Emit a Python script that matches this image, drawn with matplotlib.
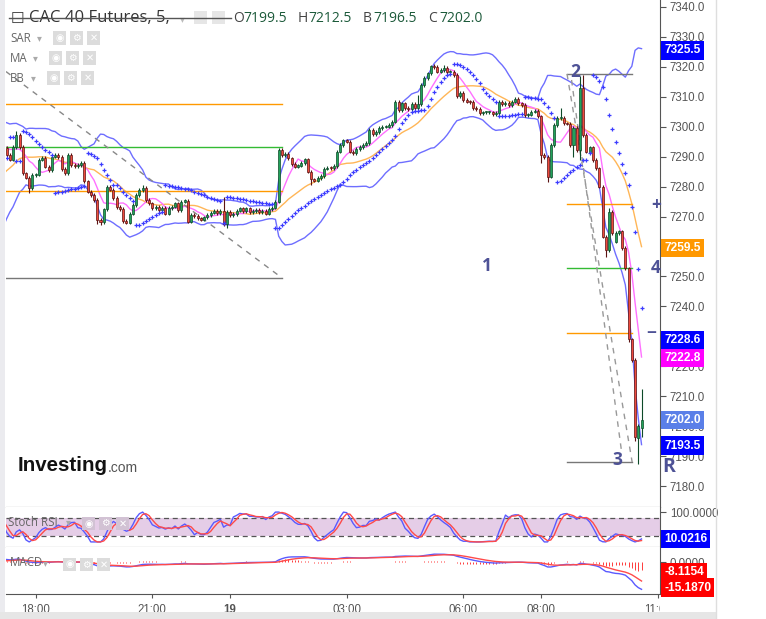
import numpy as np
import pandas as pd
import matplotlib
matplotlib.use("Agg")
import matplotlib.pyplot as plt
from matplotlib.patches import Rectangle
from matplotlib.lines import Line2D
from matplotlib.transforms import blended_transform_factory, Bbox, TransformedBbox

plt.rcParams["font.family"] = ["Open Sans", "DejaVu Sans"]

# CAC 40 futures, 5 min bars, visible window 17:15 -> 10:40
closes = [
    7290.6, 7289.0, 7293.3, 7297.2, 7293.3, 7284.4, 7283.0, 7279.4, 7283.9, 7284.0,
    7289.0, 7289.5, 7286.7, 7285.6, 7290.0, 7290.6, 7289.8, 7285.8, 7284.4, 7290.6,
    7287.2, 7286.9, 7287.2, 7288.0, 7281.7, 7278.3, 7277.2, 7275.5, 7268.8, 7268.2,
    7272.4, 7280.0, 7279.0, 7276.1, 7273.1, 7272.5, 7268.5, 7268.0, 7271.0, 7273.9,
    7277.2, 7278.9, 7279.5, 7275.5, 7274.4, 7272.7, 7273.2, 7272.2, 7273.0, 7271.0,
    7272.8, 7273.3, 7274.4, 7272.2, 7275.0, 7275.3, 7268.3, 7270.5, 7270.2, 7269.4,
    7269.0, 7269.7, 7270.5, 7271.3, 7272.0, 7271.1, 7272.0, 7267.5, 7271.5, 7270.5,
    7270.8, 7272.0, 7272.7, 7271.7, 7272.7, 7271.5, 7271.8, 7272.3, 7271.5, 7272.0,
    7271.0, 7272.5, 7273.0, 7275.0, 7292.2, 7290.6, 7291.0, 7289.4, 7287.5, 7286.7,
    7287.0, 7287.8, 7289.1, 7285.0, 7282.4, 7282.0, 7282.9, 7283.5, 7286.0, 7286.3,
    7286.1, 7286.9, 7291.7, 7293.9, 7295.4, 7295.0, 7291.7, 7291.2, 7292.5, 7293.2,
    7294.0, 7294.5, 7298.9, 7297.5, 7298.2, 7299.5, 7300.0, 7300.0, 7300.6, 7301.7,
    7308.4, 7305.6, 7307.8, 7306.2, 7306.0, 7307.5, 7306.2, 7307.5, 7314.0, 7316.2,
    7317.8, 7320.1, 7320.0, 7318.4, 7319.0, 7319.5, 7318.2, 7318.3, 7317.3, 7310.1,
    7311.2, 7309.0, 7308.4, 7308.2, 7306.2, 7305.9, 7304.5, 7304.8, 7304.8, 7304.8,
    7304.1, 7304.5, 7308.4, 7307.5, 7308.0, 7307.1, 7308.4, 7309.3, 7307.8, 7307.3,
    7303.9, 7304.0, 7305.0, 7305.3, 7303.4, 7290.6, 7289.8, 7283.1, 7293.9, 7300.6,
    7302.8, 7303.0, 7301.1, 7301.0, 7293.9, 7299.5, 7292.2, 7312.8, 7297.2, 7291.7,
    7293.1, 7288.9, 7286.1, 7280.0, 7263.3, 7258.8, 7271.6, 7264.4, 7264.4, 7265.0,
    7259.4, 7252.7, 7229.0, 7222.0, 7196.5, 7200.0, 7202.0,
]
first_open = 7292.8
open_fix = {188: 7261.6, 195: 7196.0, 196: 7199.5}
high_fix = {3: 7298.5, 42: 7280.5, 67: 7276.5, 84: 7293.0, 127: 7310.5, 132: 7321.0,
            135: 7320.6, 171: 7306.3, 177: 7317.0, 178: 7317.2, 186: 7273.0, 196: 7212.5}
low_fix = {7: 7277.8, 28: 7267.5, 29: 7267.0, 68: 7266.0, 84: 7274.5, 94: 7280.5,
           165: 7287.8, 167: 7281.5, 168: 7283.0, 175: 7290.0, 177: 7289.0, 185: 7256.5,
           192: 7228.0, 194: 7195.0, 195: 7187.5, 196: 7196.5}
wick_pad = 0.6

# bars left of the visible window, only there so the indicators are warmed up
warmup_closes = [
    7296, 7298, 7295, 7291, 7287, 7283, 7279, 7275, 7272, 7270,
    7268, 7271, 7274, 7272, 7275, 7279, 7277, 7281, 7284, 7283,
    7287, 7290, 7288, 7292, 7295, 7293, 7296, 7294, 7291, 7293,
]

time_ticks = [9, 45, 69, 105, 141, 165, 201]
time_labels = ["18:00", "21:00", "19", "03:00", "06:00", "08:00", "11:00"]

fib_left = [7307.5, 7293.2, 7278.4, 7249.5]
fib_left_colors = ["#ff9900", "#33bb33", "#ff9900", "#777777"]
fib_right = [7317.6, 7274.1, 7252.7, 7231.0, 7188.0]
fib_right_colors = ["#777777", "#ff9900", "#33bb33", "#ff9900", "#777777"]

price_flags = [7325.5, 7259.5, 7228.6, 7222.8, 7202.0, 7193.5]
price_flag_colors = ["#0000ff", "#ff9800", "#0000ff", "#ff00ff", "#5a7fe8", "#0000ff"]
hidden_ticks = [7260, 7230]
stoch_flag = 10.0216
macd_flags = ["-8.1154", "-15.1870"]
header_keys = ["O", "H", "B", "C"]
header_vals = ["7199.5", "7212.5", "7196.5", "7202.0"]

# wave labels (bar index, price)
wave_labels = [("1", 148.3, 7253.5), ("2", 175.5, 7318.3), ("3", 188.6, 7188.7),
               ("4", 200.5, 7252.7), ("+", 200.6, 7273.9), ("\u2212", 199.0, 7231.2),
               ("R", 204.3, 7186.5)]

# ---------------- build series ----------------
n = len(closes)
nw = len(warmup_closes)
c = np.array(closes, float)
o = np.r_[first_open, c[:-1]]
for i, v in open_fix.items():
    o[i] = v
h = np.maximum(o, c) + wick_pad
l = np.minimum(o, c) - wick_pad
for i, v in high_fix.items():
    h[i] = v
for i, v in low_fix.items():
    l[i] = v
x = np.arange(n)

wc = np.array(warmup_closes, float)
allc = pd.Series(np.r_[wc, c])
allh = np.r_[wc + wick_pad, h]
alll = np.r_[wc - wick_pad, l]
xa = np.arange(-nw, n)

sma20 = allc.rolling(20).mean()
sd20 = allc.rolling(20).std(ddof=0)
bb_up = sma20 + 2 * sd20
bb_lo = sma20 - 2 * sd20
sma7 = allc.rolling(7).mean()


def psar(hi, lo, af0=0.02, step=0.02, amax=0.2):
    out = np.zeros(len(hi))
    up = False
    af = af0
    ep = lo[0]
    out[0] = hi[0]
    for i in range(1, len(hi)):
        s = out[i - 1] + af * (ep - out[i - 1])
        if up:
            s = min(s, lo[i - 1], lo[max(i - 2, 0)])
            if lo[i] < s:
                up, s, ep, af = False, ep, lo[i], af0
            elif hi[i] > ep:
                ep, af = hi[i], min(af + step, amax)
        else:
            s = max(s, hi[i - 1], hi[max(i - 2, 0)])
            if hi[i] > s:
                up, s, ep, af = True, ep, hi[i], af0
            elif lo[i] < ep:
                ep, af = lo[i], min(af + step, amax)
        out[i] = s
    return out


sar = psar(allh, alll)

d = allc.diff()
g = d.clip(lower=0).ewm(alpha=1 / 14, adjust=False).mean()
ls = (-d.clip(upper=0)).ewm(alpha=1 / 14, adjust=False).mean()
rsi = 100 - 100 / (1 + g / ls)
rlo = rsi.rolling(14, min_periods=1).min()
rhi = rsi.rolling(14, min_periods=1).max()
st = (rsi - rlo) / (rhi - rlo).replace(0, np.nan) * 100
k = st.rolling(3, min_periods=1).mean()
dk = k.rolling(3, min_periods=1).mean()

macd = allc.ewm(span=12, adjust=False).mean() - allc.ewm(span=26, adjust=False).mean()
sig = macd.ewm(span=9, adjust=False).mean()
hist = macd - sig

# ---------------- figure ----------------
W, H = 766, 619
fig = plt.figure(figsize=(W / 100, H / 100), dpi=100)
fig.patch.set_facecolor("white")


def fx(px):
    return px / W


def fy(py):
    return 1 - py / H


ax = fig.add_axes([fx(6), fy(507), fx(654), 507 / H])
ax2 = fig.add_axes([fx(6), fy(547.3), fx(654), 40.3 / H], sharex=ax)
ax3 = fig.add_axes([fx(6), fy(594.3), fx(654), 47 / H], sharex=ax)

axis_font = ["Liberation Sans", "DejaVu Sans"]
for a in (ax, ax2, ax3):
    a.set_facecolor("white")
    for s in ("left", "top"):
        a.spines[s].set_visible(False)
    a.spines["right"].set_color("#555555")
    a.spines["bottom"].set_color("#555555")
    a.yaxis.tick_right()
    a.tick_params(axis="y", direction="out", length=4, width=0.8, color="#555555",
                  labelsize=8.3, labelcolor="#555555", pad=3)
ax.set_xlim(-0.17, 201.7)
ax.tick_params(axis="x", bottom=False, labelbottom=False)
ax2.tick_params(axis="x", bottom=False, labelbottom=False)

# ---- main price panel ----
ax.set_ylim(7173.0, 7342.3)
yt = np.arange(7180, 7341, 10)
ax.set_yticks(yt)
ax.set_yticklabels(["" if v in hidden_ticks else f"{v:.1f}" for v in yt], family=axis_font)

ax.plot(xa, bb_up, color="#6e6eff", lw=1, zorder=2)
ax.plot(xa, bb_lo, color="#6e6eff", lw=1, zorder=2)
ax.plot(xa, sma20, color="#ffb657", lw=1, zorder=2)
ax.plot(xa, sma7, color="#ff70ff", lw=1, zorder=2)

rising = c >= o
ax.vlines(x, l, h, colors=np.where(rising, "#0d4a28", "#5a1212"), lw=0.8, zorder=3)
ax.bar(x, np.maximum(np.abs(c - o), 0.35), 0.62, bottom=np.minimum(o, c),
       color=np.where(rising, "#21a25a", "#ee4a3d"),
       edgecolor=np.where(rising, "#0d4a28", "#5a1212"), lw=0.5, zorder=4)
ax.plot(xa, sar, "+", ms=3.3, mew=0.9, color="#3c3cff", zorder=5)

# fibonacci / wave drawings
for lev, col in zip(fib_left, fib_left_colors):
    ax.plot([-0.17, 85.0], [lev, lev], color=col, lw=1, zorder=2)
for lev, col in zip(fib_right, fib_right_colors):
    ax.plot([173.0, 193.1], [lev, lev], color=col, lw=1, zorder=2)
ax.plot([-0.17, 85.0], [7318.4, fib_left[-1]], color="#888888", lw=1, ls=(0, (4, 4)), zorder=2)
ax.plot([173.0, 193.1], [fib_right[0], fib_right[-1]], color="#999999", lw=1, ls=(0, (4, 4)), zorder=2)
ax.plot([174.4, 189.9], [7315.6, 7191.0], color="#999999", lw=1, ls=(0, (4, 4)), zorder=2)

for s, bx, py in wave_labels:
    ax.text(bx, py, s, color="#4e5296", fontsize=14 if s == "R" else 12.5,
            ha="center", va="center", clip_on=False, zorder=6, fontweight="bold")

bt = blended_transform_factory(ax.transAxes, ax.transData)
for v, col in zip(price_flags, price_flag_colors):
    ax.text(1.0 + 4 / 654, v, f"{v:.1f}", transform=bt, ha="left", va="center",
            fontsize=8.6, fontweight="bold", color="white", family=axis_font, clip_on=False,
            zorder=10, bbox=dict(boxstyle="square,pad=0.28", fc=col, ec="none"))

# Investing.com logo
ax.text((18 - 6) / 654, 0.082, "Investing", transform=ax.transAxes, fontsize=14.8,
        fontweight="bold", color="#111111", family=axis_font, va="center", ha="left")
ax.text((108 - 6) / 654, 0.077, ".com", transform=ax.transAxes, fontsize=10, color="#555555",
        family=axis_font, va="center", ha="left")

# ---- stoch RSI panel ----
ax2.set_ylim(-18, 117)
ax2.axhspan(20, 80, color="#e5cde7", lw=0, zorder=1)
ax2.axhline(80, color="#555555", lw=0.9, ls=(0, (4, 3)), zorder=2)
ax2.axhline(20, color="#555555", lw=0.9, ls=(0, (4, 3)), zorder=2)
ax2.plot(xa, k, color="#5a5aff", lw=1, zorder=3)
ax2.plot(xa, dk, color="#ff4a4a", lw=1, zorder=3)
ax2.set_yticks([100])
ax2.set_yticklabels(["100.0000"], family=axis_font)
bt2 = blended_transform_factory(ax2.transAxes, ax2.transData)
ax2.text(1.0 + 4 / 654, stoch_flag, f"{stoch_flag:.4f}", transform=bt2, ha="left", va="center",
         fontsize=8.6, fontweight="bold", color="white", family=axis_font, clip_on=False,
         zorder=10, bbox=dict(boxstyle="square,pad=0.28", fc="#0000ff", ec="none"))

# ---- MACD panel ----
# scale so that zero sits where the reference has it and the last MACD value near the bottom
m_last = macd.iloc[-1]
span = -m_last / (0.687 - 0.106)
ax3.set_ylim(-0.687 * span, 0.313 * span)
ax3.vlines(xa, 0, hist, colors="#ff3b3b", lw=0.7, zorder=2)
ax3.plot(xa, macd, color="#5a5aff", lw=1, zorder=3)
ax3.plot(xa, sig, color="#ff4a4a", lw=1, zorder=3)
ax3.set_yticks([0])
ax3.set_yticklabels(["0.0000"], family=axis_font)
for s, yf in zip(macd_flags, [0.47, 0.14]):
    ax3.text(1.0 + 4 / 654, yf, s, transform=ax3.transAxes, ha="left", va="center",
             fontsize=8.6, fontweight="bold", color="white", family=axis_font, clip_on=False,
             zorder=10, bbox=dict(boxstyle="square,pad=0.28", fc="#ff0000", ec="none"))

ax3.set_xticks(time_ticks)
ax3.set_xticklabels(time_labels)
ax3.tick_params(axis="x", length=3, color="#555555", labelsize=8.3, labelcolor="#555555", pad=4)
clip = TransformedBbox(Bbox([[0, 0], [660 / W, 1]]), fig.transFigure)
for lab in ax3.get_xticklabels():
    lab.set_family(axis_font)
    if lab.get_text() == "19":
        lab.set_fontweight("bold")
    lab.set_clip_on(True)
    lab.set_clip_box(clip)

# ---------------- chrome / legend texts ----------------
fig.patches.append(Rectangle((0, 0), fx(5), 1, transform=fig.transFigure,
                             fc="#ebebef", ec="none", zorder=0))
fig.patches.append(Rectangle((0, 0), fx(716), 7 / H, transform=fig.transFigure,
                             fc="#e6e6e6", ec="none", zorder=0))
fig.lines.append(Line2D([fx(716), fx(716)], [0, 1], transform=fig.transFigure,
                        color="#dedede", lw=1))


def icons(x0, y0, gap=17, size=13, fc="#dcdcdc"):
    for j, gl in enumerate(["\u25c9", "\u2699", "\u2715"]):
        fig.patches.append(Rectangle((fx(x0 + j * gap), fy(y0 + size)), size / W, size / H,
                                     transform=fig.transFigure, fc=fc, ec="none", zorder=5))
        fig.text(fx(x0 + j * gap + size / 2), fy(y0 + size / 2), gl, color="white",
                 fontsize=7, ha="center", va="center", family="DejaVu Sans", zorder=6)


fig.text(fx(11), fy(18), "\u2610", fontsize=11, color="#333333", va="center", family="DejaVu Sans")
fig.text(fx(29), fy(18), "CAC 40 Futures, 5,", fontsize=12, color="#333333", va="center")
fig.text(fx(180), fy(19), "\u25be", fontsize=7, color="#bbbbbb", va="center", family="DejaVu Sans")
for j in range(2):
    fig.patches.append(Rectangle((fx(194 + j * 18), fy(24)), 13 / W, 13 / H,
                                 transform=fig.transFigure, fc="#e6e6e6", ec="none", zorder=5))
fig.lines.append(Line2D([fx(9), fx(231)], [fy(17.5), fy(17.5)], transform=fig.transFigure,
                        color="#555555", lw=1, zorder=7))
for key, val, kx, vx in zip(header_keys, header_vals, [233, 298, 363, 428], [243, 308, 373, 439]):
    fig.text(fx(kx), fy(18), key, fontsize=10, color="#444444", va="center")
    fig.text(fx(vx), fy(18), val, fontsize=10, color="#1c5a3a", va="center")

for name, yy, bx in [("SAR", 38, 53), ("MA", 58, 49), ("BB", 78, 47)]:
    fig.text(fx(10), fy(yy), name, fontsize=8.3, color="#666666", va="center")
    fig.text(fx(bx - 16), fy(yy), "\u25be", fontsize=7, color="#aaaaaa", va="center",
             family="DejaVu Sans")
    icons(bx, yy - 6.5)

fig.text(fx(8), fy(522), "Stoch RSI", fontsize=8.3, color="#666666", va="center")
fig.text(fx(66), fy(522), "\u25be", fontsize=7, color="#aaaaaa", va="center", family="DejaVu Sans")
icons(82, 517, fc="#d2c2d4")
fig.text(fx(10), fy(563), "MACD", fontsize=8.3, color="#666666", va="center")
fig.text(fx(43), fy(563), "\u25be", fontsize=7, color="#aaaaaa", va="center", family="DejaVu Sans")
icons(63, 558)

fig.savefig("out.png", dpi=100)
